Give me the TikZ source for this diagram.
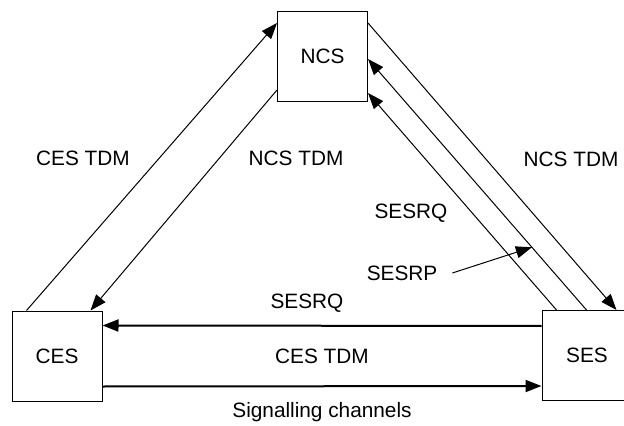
\documentclass[tikz,border=0pt]{standalone}
\usepackage{fontspec}
\setmainfont{Liberation Sans}
\usetikzlibrary{arrows.meta,calc}

\begin{document}
\begin{tikzpicture}[x=0.5pt,y=-0.5pt,
  txt/.style={font=\fontsize{10.4}{12}\selectfont},
  box/.style={txt, draw, line width=0.5pt, minimum width=45pt, minimum height=45pt, inner sep=0pt},
  chan/.style={line width=0.5pt, -{Triangle[length=8pt,width=6pt]}},
  bus/.style={line width=1pt, -{Triangle[length=8pt,width=6pt]}}]
  \useasboundingbox (0,0) rectangle (624,426);

  \node[box] (ces) at (57,356) {CES};
  \node[box] (ncs) at (322.5,56.5) {NCS};
  \node[box] (ses) at (587,355.5) {SES};

  % CES <-> NCS
  \draw[chan] ($(ces.north west)+(15,0)$) -- ($(ncs.north west)+(0,12)$);
  \draw[chan] ($(ncs.south west)+(0,-12)$) -- ($(ces.north east)+(-12,0)$);

  % NCS <-> SES
  \draw[chan] ($(ncs.north east)+(0,12)$) -- ($(ses.north west)+(75,0)$);
  \draw[chan] ($(ses.north west)+(45,0)$) -- coordinate[pos=0.25] (rp) ($(ncs.north east)+(0,48)$);
  \draw[chan] ($(ses.north west)+(15,0)$) -- ($(ncs.south east)+(0,-9)$);

  % CES <-> SES
  \draw[bus] ($(ses.north west)+(0,16)$) -- ($(ces.north east)+(0,15)$);
  \draw[bus] ($(ces.south east)+(0,-15)$) -- ($(ses.south west)+(0,-15)$);

  \node[txt] (cestdm) at (83,158) {CES TDM};
  \node[txt] (ncstdm) at (296,158) {NCS TDM};
  \node[txt] (ncstdm2) at (571,159) {NCS TDM};
  \node[txt] (rqdiag) at (411,213) {SESRQ};
  \node[txt] (rpdiag) at (402,273) {SESRP};
  \node[txt] (rqbus) at (307,303) {SESRQ};
  \node[txt] (cesbus) at (322,356) {CES TDM};
  \node[txt] (sig) at (322,412) {Signalling channels};

  \draw[chan] ([xshift=4pt]rpdiag.east) -- (rp);
\end{tikzpicture}
\end{document}
